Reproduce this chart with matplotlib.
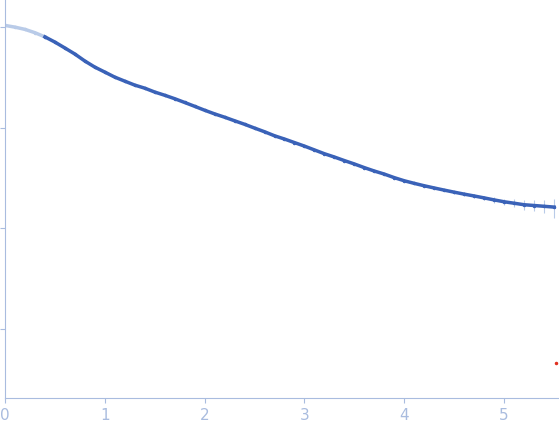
import matplotlib
matplotlib.use("Agg")
from matplotlib import pyplot as plt

# scattering curve (q in 1/nm, intensity arbitrary, log scale)
q = [0.0, 0.1, 0.2, 0.3, 0.4, 0.5, 0.6, 0.7, 0.8, 0.9,
     1.0, 1.1, 1.2, 1.3, 1.4, 1.5, 1.6, 1.7, 1.8, 1.9,
     2.0, 2.1, 2.2, 2.3, 2.4, 2.5, 2.6, 2.7, 2.8, 2.9,
     3.0, 3.1, 3.2, 3.3, 3.4, 3.5, 3.6, 3.7, 3.8, 3.9,
     4.0, 4.1, 4.2, 4.3, 4.4, 4.5, 4.6, 4.7, 4.8, 4.9,
     5.0, 5.1, 5.2, 5.3, 5.4, 5.5]
intensity = [1.04, 1.00, 0.95, 0.88, 0.80, 0.71, 0.62, 0.54, 0.46, 0.40,
             0.357, 0.318, 0.290, 0.265, 0.247, 0.226, 0.210, 0.194, 0.178, 0.163,
             0.149, 0.137, 0.127, 0.117, 0.108, 0.099, 0.091, 0.083, 0.077, 0.071,
             0.0655, 0.060, 0.055, 0.051, 0.047, 0.0435, 0.040, 0.037, 0.0345, 0.0318,
             0.0296, 0.0279, 0.0264, 0.0251, 0.0239, 0.0228, 0.0218, 0.0209, 0.0200, 0.0191,
             0.0183, 0.0177, 0.0171, 0.0168, 0.0165, 0.0162]
error = [0.0, 0.0, 0.0, 0.0, 0.0, 0.0, 0.0, 0.0, 0.0, 0.0,
         0.0, 0.0, 0.0, 0.0, 0.0, 0.0, 0.0, 0.0, 0.0, 0.0,
         0.0, 0.0, 0.0, 0.0, 0.0, 0.0, 0.0, 0.0, 0.0, 0.0,
         0.0, 0.0, 0.0, 0.0, 0.0, 0.0, 0.0, 0.0, 0.0, 0.0,
         0.0003, 0.0004, 0.0005, 0.0006, 0.0007, 0.0008, 0.0009, 0.001, 0.0011, 0.0012,
         0.0014, 0.0016, 0.0018, 0.0021, 0.0025, 0.0035]
cut = 5  # points below q=0.45 are drawn light (excluded range)
outlier_q = [5.52]
outlier_i = [0.00046]

light = '#b9cbe8'
dark = '#3a62b8'
axis_col = '#a9bcdf'

fig = plt.figure(figsize=(5.59, 4.37), dpi=100)
ax = fig.add_axes([5 / 559, 39 / 437, 554 / 559, 398 / 437])

ax.errorbar(q[cut:], intensity[cut:], yerr=error[cut:], fmt='none', ecolor=light, elinewidth=0.8)
ax.plot(q[:cut], intensity[:cut], '-o', color=light, ms=1.5, lw=2.5)
ax.plot(q[cut - 1:], intensity[cut - 1:], '-o', color=dark, ms=1.5, lw=2.5)
ax.plot(outlier_q, outlier_i, 'o', color='#e03020', ms=1.5)

ax.set_yscale('log')
ax.set_xlim(0, 5.55)
ax.set_ylim(10 ** (-3.69), 10 ** 0.27)
ax.set_xticks([0, 1, 2, 3, 4, 5])
ax.set_yticks([1, 0.1, 0.01, 0.001])
ax.set_yticklabels([])
ax.minorticks_off()
for s in ['top', 'right']:
    ax.spines[s].set_visible(False)
for s in ['left', 'bottom']:
    ax.spines[s].set_color(axis_col)
ax.tick_params(colors=axis_col, labelcolor=axis_col, labelsize=11)

fig.savefig('out.png')
